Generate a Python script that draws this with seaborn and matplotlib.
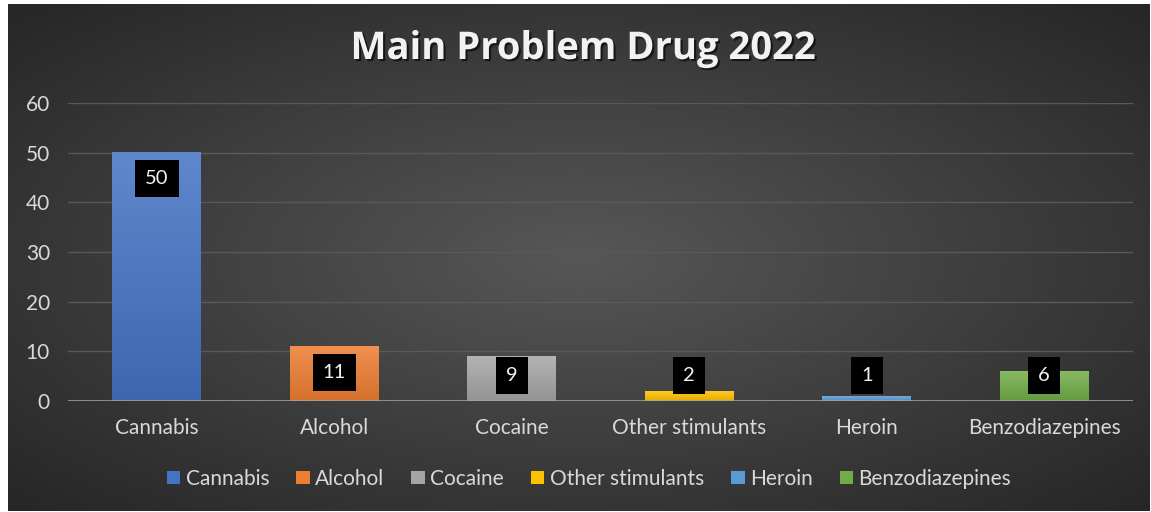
import numpy as np
import matplotlib
matplotlib.use("Agg")
import matplotlib.pyplot as plt
import matplotlib.patheffects as pe
from matplotlib.patches import Patch
from matplotlib.colors import to_rgb
import seaborn as sns

# ---- data ----
categories = ["Cannabis", "Alcohol", "Cocaine", "Other stimulants", "Heroin", "Benzodiazepines"]
values = [50, 11, 9, 2, 1, 6]
colors = ["#4472C4", "#ED7D31", "#A5A5A5", "#FFC000", "#5B9BD5", "#70AD47"]
yticks = [0, 10, 20, 30, 40, 50, 60]
title = "Main Problem Drug 2022"

sns.set_theme(style="dark")
plt.rcParams["font.family"] = ["Lato", "DejaVu Sans"]

W, H = 1151, 512
fig = plt.figure(figsize=(W / 100, H / 100), dpi=100, facecolor="white")

# background panel with radial gradient
bg = fig.add_axes([8 / W, 1 / H, (1150 - 8) / W, 507 / H])
ny, nx = 200, 400
yy, xx = np.mgrid[0:1:ny * 1j, 0:1:nx * 1j]
r = np.sqrt(((xx - 0.5) / 0.5) ** 2 + ((yy - 0.5) / 0.5) ** 2) / np.sqrt(2)
r = np.clip(r, 0, 1)
c_center = np.array(to_rgb("#575757"))
c_edge = np.array(to_rgb("#262626"))
img = c_center[None, None, :] * (1 - r[..., None]) + c_edge[None, None, :] * r[..., None]
bg.imshow(img, aspect="auto", extent=[0, 1, 0, 1])
bg.set_axis_off()

# main axes
ax = fig.add_axes([68 / W, 1 - 401 / H, (1133 - 68) / W, (401 - 103) / H])
ax.patch.set_alpha(0)
sns.barplot(x=categories, y=values, hue=categories, palette=colors, width=0.5,
            saturation=1, legend=False, ax=ax, zorder=2, linewidth=0,
            edgecolor="none")

# bar gradients (light top -> slightly darker bottom)
for p, c in zip(ax.patches, colors):
    x0, y0 = p.get_x(), p.get_y()
    w, h = p.get_width(), p.get_height()
    rgb = np.array(to_rgb(c))
    top = rgb + (1 - rgb) * 0.15
    bot = rgb * 0.9
    g = np.linspace(0, 1, 64)[:, None, None]
    gimg = top[None, None, :] * (1 - g) + bot[None, None, :] * g
    ax.imshow(gimg, extent=[x0, x0 + w, y0, y0 + h], aspect="auto",
              origin="upper", zorder=2.1)

ax.set_xlim(-0.5, len(categories) - 0.5)
ax.set_ylim(0, 60)
ax.set_yticks(yticks)
ax.set_xlabel("")
ax.set_ylabel("")
for s in ax.spines.values():
    s.set_visible(False)
ax.yaxis.grid(True, color="#595959", lw=1)
ax.xaxis.grid(False)
ax.set_axisbelow(True)
ax.axhline(0, color="#a6a6a6", lw=1.8, zorder=3)
ax.tick_params(axis="both", colors="#d9d9d9", labelsize=15, length=0)
ax.tick_params(axis="x", pad=12)
ax.tick_params(axis="y", pad=13)

# data labels
for i, v in enumerate(values):
    ax.text(i, max(v - 5.2, 5.2), str(v), ha="center", va="center",
            color="#f2f2f2", fontsize=14.5, zorder=5,
            bbox=dict(boxstyle="square,pad=0.5", fc="black", ec="none"))

# title
fig.text(583.5 / W, 1 - 49 / H, title, ha="center", va="center", fontsize=27.5,
         fontweight="bold", color="#f2f2f2", family=["Open Sans", "DejaVu Sans"],
         path_effects=[pe.withSimplePatchShadow(offset=(1.5, -1.5),
                                                shadow_rgbFace="black", alpha=0.6)])

# legend
handles = [Patch(facecolor=c, edgecolor="none") for c in colors]
fig.legend(handles, categories, loc="center", bbox_to_anchor=(589 / W, 1 - 479 / H),
           ncol=6, frameon=False, fontsize=15, labelcolor="#d9d9d9",
           handlelength=0.65, handleheight=0.6, handletextpad=0.25,
           columnspacing=1.3)

fig.savefig("out.png", dpi=100, facecolor="white")
